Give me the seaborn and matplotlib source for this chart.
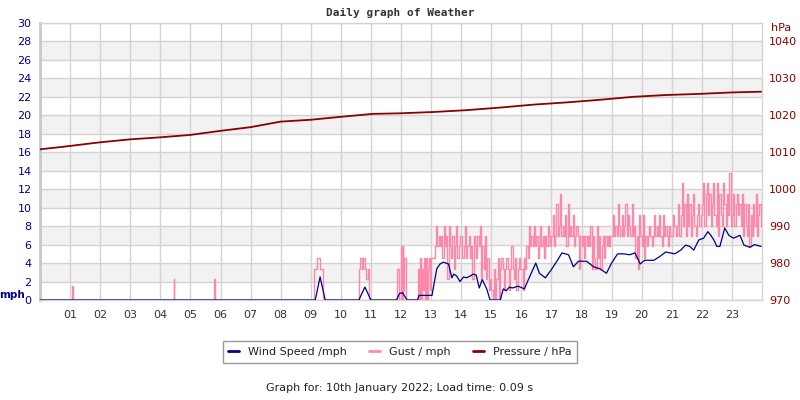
import matplotlib
matplotlib.use("Agg")
import matplotlib.pyplot as plt
from matplotlib.lines import Line2D
import numpy as np
import pandas as pd
import seaborn as sns

# ---------------- data (hours of day) ----------------
wind_hours = [0, 9.15, 9.31, 9.48, 10.6, 10.8, 11.0, 11.85, 11.95, 12.05, 12.2, 12.55, 12.6, 12.9,
              13.03, 13.19, 13.3, 13.41, 13.58, 13.69, 13.75, 13.85, 13.96, 14.08, 14.18, 14.3, 14.4,
              14.5, 14.6, 14.7, 14.85, 14.96, 15.3, 15.4, 15.5, 15.6, 15.7, 15.9, 16.1, 16.26, 16.48,
              16.6, 16.8, 17.0, 17.2, 17.35, 17.57, 17.73, 17.9, 18.17, 18.4, 18.6, 18.83, 19.0, 19.2,
              19.4, 19.6, 19.78, 19.95, 20.1, 20.4, 20.6, 20.8, 20.95, 21.1, 21.3, 21.46, 21.6, 21.73,
              21.9, 22.06, 22.2, 22.3, 22.4, 22.5, 22.6, 22.76, 22.9, 23.05, 23.27, 23.4, 23.6, 23.75,
              23.97]
wind_mph = [0, 0, 2.5, 0, 0, 1.4, 0, 0, 0.7, 0.8, 0, 0, 0.5, 0.5,
            0.5, 3.4, 3.9, 4.1, 3.9, 2.4, 2.8, 2.6, 2.0, 2.5, 2.4, 2.6, 2.8,
            2.7, 1.3, 2.2, 1.2, 0, 0, 1.2, 1.0, 1.4, 1.3, 1.5, 1.2, 2.4, 4.0,
            2.9, 2.4, 3.3, 4.3, 5.1, 4.9, 3.6, 4.2, 4.2, 3.6, 3.4, 2.9, 4.0, 5.0,
            5.0, 4.9, 5.1, 3.9, 4.3, 4.3, 4.7, 5.2, 5.1, 5.0, 5.4, 5.95, 5.8, 5.4,
            6.5, 6.7, 7.4, 7.0, 6.5, 5.8, 5.8, 7.8, 7.0, 6.7, 7.0, 5.95, 5.7, 6.0,
            5.8]

# sparse gusts before 13:00 (hour, mph)
gust_early_hours = [0, 1.05, 1.067, 1.083, 4.43, 4.45, 4.47, 5.78, 5.8, 5.82,
                    9.1, 9.12, 9.2, 9.22, 9.3, 9.32, 9.4,
                    10.6, 10.62, 10.65, 10.7, 10.75, 10.8, 10.85, 10.9, 10.95,
                    11.85, 11.87, 11.93, 11.95, 12.0, 12.02, 12.05, 12.08, 12.1, 12.15,
                    12.55, 12.57, 12.6, 12.63, 12.67, 12.7, 12.73, 12.77, 12.8, 12.83,
                    12.87, 12.9, 12.93, 12.97]
gust_early_mph = [0, 0, 1.5, 0, 0, 2.3, 0, 0, 2.3, 0,
                  0, 3.4, 3.4, 4.5, 4.5, 3.4, 0,
                  0, 3.4, 4.5, 3.4, 4.5, 3.4, 2.3, 3.4, 0,
                  0, 3.4, 3.4, 0, 5.8, 0, 5.8, 1.1, 4.5, 0,
                  0, 3.4, 0, 4.5, 0, 3.4, 1.1, 4.5, 0, 4.5,
                  0, 3.4, 4.5, 1.1]

# gusts from 13:00 onward, one value every 2.5 minutes
gust_start_hour = 13
gust_step_min = 2.5
gust_late_mph = [
    4.6, 4.6, 4.6, 5.8, 8.0, 5.8, 6.9, 5.8, 6.9, 4.6, 8.0, 5.8, 6.9, 2.3, 8.0, 5.8, 4.6, 6.9, 3.4, 5.8, 8.0, 4.6, 5.8, 6.9,            # 13
    6.9, 4.6, 5.8, 8.0, 4.6, 5.8, 6.9, 4.6, 5.8, 2.3, 6.9, 5.8, 4.6, 6.9, 5.8, 8.0, 2.3, 5.8, 3.4, 6.9, 2.3, 4.6, 1.1, 2.3,            # 14
    1.1, 0.0, 3.4, 0.0, 2.3, 4.6, 0.0, 3.4, 4.6, 3.4, 1.1, 3.4, 4.6, 3.4, 1.1, 3.4, 5.8, 3.4, 2.3, 4.6, 1.1, 3.4, 4.6, 3.4,            # 15
    3.4, 1.1, 4.6, 3.4, 5.8, 4.6, 8.0, 5.8, 6.9, 5.8, 8.0, 5.8, 6.9, 4.6, 5.8, 8.0, 5.8, 6.9, 4.6, 6.9, 5.8, 8.0, 6.9, 5.8,            # 16
    6.9, 9.2, 5.8, 6.9, 10.4, 6.9, 8.0, 11.5, 6.9, 8.0, 6.9, 9.2, 5.8, 10.4, 6.9, 8.0, 6.9, 9.2, 5.8, 6.9, 8.0, 6.9, 3.4, 6.9,         # 17
    5.8, 6.9, 4.6, 6.9, 5.8, 6.9, 5.8, 8.0, 3.4, 6.9, 4.6, 3.4, 8.0, 4.6, 6.9, 3.4, 5.8, 6.9, 4.6, 6.9, 5.8, 6.9, 5.8, 6.9,            # 18
    6.9, 9.2, 6.9, 8.0, 6.9, 10.4, 8.0, 6.9, 9.2, 6.9, 8.0, 10.4, 6.9, 9.2, 8.0, 6.9, 10.4, 6.9, 8.0, 4.6, 6.9, 3.4, 9.2, 6.9,         # 19
    5.8, 9.2, 4.6, 6.9, 5.8, 6.9, 8.0, 6.9, 5.8, 6.9, 9.2, 6.9, 8.0, 6.9, 9.2, 6.9, 5.8, 9.2, 6.9, 8.0, 6.9, 5.8, 8.0, 6.9,            # 20
    6.9, 9.2, 8.0, 6.9, 8.0, 10.4, 6.9, 9.2, 12.7, 8.0, 10.4, 6.9, 11.5, 8.0, 10.4, 6.9, 9.2, 11.5, 8.0, 6.9, 9.2, 10.4, 8.0, 9.2,     # 21
    10.4, 12.7, 8.0, 11.5, 12.7, 9.2, 11.5, 8.0, 10.4, 12.7, 9.2, 8.0, 12.7, 6.9, 11.5, 9.2, 8.0, 12.7, 10.4, 8.0, 11.5, 9.2, 13.8, 8.0, # 22
    9.2, 11.5, 8.0, 10.4, 11.5, 9.2, 10.4, 8.0, 11.5, 6.9, 10.4, 8.0, 6.9, 10.4, 5.8, 9.2, 6.9, 10.4, 8.0, 11.5, 6.9, 9.2, 10.4, 8.0,   # 23
]

pressure_hours = [0, 0.78, 2.0, 3.0, 4.0, 5.0, 6.0, 7.0, 8.0, 9.0, 10.0, 11.07, 11.97,
                  13.07, 14.18, 15.3, 16.4, 17.5, 18.6, 19.7, 20.8, 21.9, 23.0, 23.97]
pressure_hpa = [1010.8, 1011.5, 1012.7, 1013.5, 1014.05, 1014.7, 1015.8, 1016.8, 1018.3,
                1018.8, 1019.6, 1020.4, 1020.55, 1020.9, 1021.4, 1022.1, 1022.9, 1023.5,
                1024.2, 1025.0, 1025.5, 1025.8, 1026.2, 1026.4]

hour_labels = ["%02d" % h for h in range(1, 24)]
mph_ticks = list(range(0, 31, 2))
hpa_ticks = list(range(970, 1041, 10))

# ---------------- build frames ----------------
late_hours = [gust_start_hour + i * gust_step_min / 60 for i in range(len(gust_late_mph))]
gust_df = pd.DataFrame({"hour": gust_early_hours + late_hours,
                        "mph": gust_early_mph + gust_late_mph})
wind_df = pd.DataFrame({"hour": wind_hours, "mph": wind_mph})
pres_df = pd.DataFrame({"hour": pressure_hours, "hpa": pressure_hpa})

# ---------------- styling ----------------
sns.set_theme(style="white")
plt.rcParams["font.family"] = ["DejaVu Sans"]

NAVY = "#00008B"
PINK = "#FF88AA"
DRED = "#8B0000"
GRID = "#d3d3d3"

fig = plt.figure(figsize=(8, 4), dpi=100)
ax = fig.add_axes([0.05, 0.25, 0.9025, 0.6925])

# alternating bands
for lo in range(2, 30, 4):
    ax.axhspan(lo, lo + 2, color="#f2f2f2", zorder=0, lw=0)

sns.lineplot(data=gust_df, x="hour", y="mph", ax=ax, color=PINK, lw=1.0,
             estimator=None, sort=False, legend=False, zorder=3,
             drawstyle="steps-post")
sns.lineplot(data=wind_df, x="hour", y="mph", ax=ax, color=NAVY, lw=0.9,
             estimator=None, sort=False, legend=False, zorder=4)

ax.set_xlim(0, 24)
ax.set_ylim(0, 30)
ax.set_xticks(range(1, 24))
ax.set_xticklabels(hour_labels)
ax.set_yticks(mph_ticks)
ax.set_xlabel("")
ax.set_ylabel("")
ax.grid(True, color=GRID, lw=1, zorder=1)
ax.set_axisbelow(True)
ax.tick_params(axis="x", length=0, pad=7, labelsize=8, labelcolor="#333333")
ax.tick_params(axis="y", length=0, pad=6, labelsize=8, labelcolor=NAVY)
for s in ["top", "right", "bottom"]:
    ax.spines[s].set_color(GRID)
    ax.spines[s].set_linewidth(1)
ax.spines["left"].set_color("#c8c8c8")
ax.spines["left"].set_linewidth(2)

ax2 = ax.twinx()
sns.lineplot(data=pres_df, x="hour", y="hpa", ax=ax2, color=DRED, lw=1.3,
             estimator=None, sort=False, legend=False)
ax2.set_ylim(970, 1045)
ax2.set_yticks(hpa_ticks)
ax2.set_ylabel("")
ax2.tick_params(axis="y", length=0, pad=5, labelsize=8, labelcolor=DRED)
for s in ax2.spines.values():
    s.set_visible(False)
ax2.grid(False)

fig.text(0.5, 0.967, "Daily graph of Weather", ha="center", va="center",
         family="DejaVu Sans Mono", weight="bold", fontsize=8, color="#333333")
fig.text(0.015, 0.262, "mph", ha="center", va="center", weight="bold",
         fontsize=7.5, color=NAVY)
fig.text(0.977, 0.93, "hPa", ha="center", va="center", fontsize=8, color=DRED)

handles = [Line2D([0], [0], color=NAVY, lw=2),
           Line2D([0], [0], color=PINK, lw=2),
           Line2D([0], [0], color=DRED, lw=2)]
leg = fig.legend(handles, ["Wind Speed /mph", "Gust / mph", "Pressure / hPa"],
                 loc="center", bbox_to_anchor=(0.5, 0.12), ncol=3, fontsize=8,
                 frameon=True, fancybox=False, handlelength=1.0, columnspacing=2.0,
                 borderpad=0.5, handletextpad=0.8)
leg.get_frame().set_edgecolor("#808080")
leg.get_frame().set_linewidth(1)
for t in leg.get_texts():
    t.set_color("#222222")

fig.text(0.5, 0.03, "Graph for: 10th January 2022; Load time: 0.09 s", ha="center",
         va="center", fontsize=8, color="#222222")

fig.savefig("out.png", dpi=100)
